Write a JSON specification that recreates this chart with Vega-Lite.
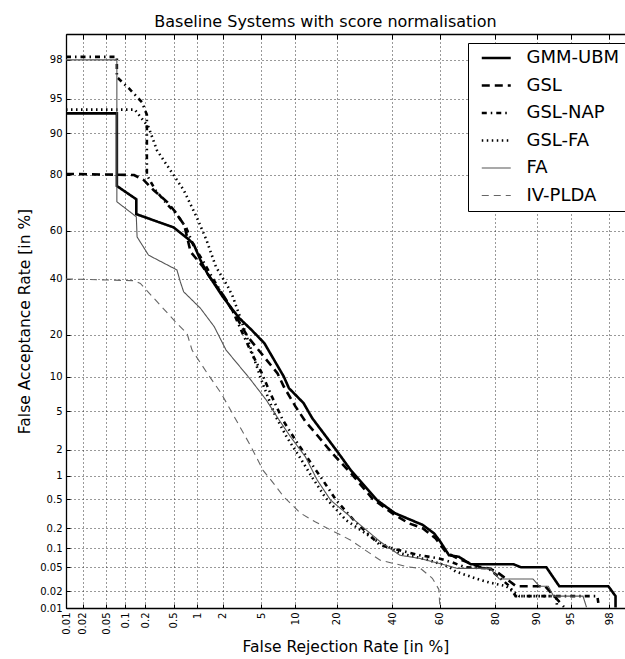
{
  "$schema": "https://vega.github.io/schema/vega-lite/v6.json",
  "width": 559,
  "height": 574,
  "autosize": {"type": "none"},
  "padding": {"left": 66, "top": 34, "right": 0, "bottom": 51},
  "background": "white",
  "title": {"text": "Baseline Systems with score normalisation", "font": "DejaVu Sans", "fontSize": 16, "fontWeight": "normal", "color": "black", "offset": 4, "dx": -20},
  "config": {
    "view": {"stroke": null},
    "font": "DejaVu Sans",
    "axis": {
      "labelFont": "DejaVu Sans", "labelFontSize": 10, "labelColor": "black",
      "titleFont": "DejaVu Sans", "titleFontSize": 15.5, "titleFontWeight": "normal", "titleColor": "black",
      "domainColor": "black", "domainWidth": 1.3, "tickColor": "black", "tickWidth": 1, "tickSize": -4,
      "gridColor": "#333", "gridDash": [1, 3], "gridWidth": 1, "gridOpacity": 1,
      "labelOverlap": false, "labelFlush": false, "labelBound": false
    }
  },
  "data": {"values": [
    {"s":"GMM-UBM","frr":0.01,"far":93.2},{"s":"GMM-UBM","frr":0.074,"far":93.2},{"s":"GMM-UBM","frr":0.074,"far":76.6},{"s":"GMM-UBM","frr":0.148,"far":72.1},{"s":"GMM-UBM","frr":0.148,"far":66.6},{"s":"GMM-UBM","frr":0.5,"far":61.4},{"s":"GMM-UBM","frr":0.785,"far":56.5},{"s":"GMM-UBM","frr":0.907,"far":54.5},{"s":"GMM-UBM","frr":1.1,"far":47.8},{"s":"GMM-UBM","frr":1.33,"far":42.3},{"s":"GMM-UBM","frr":2.0,"far":33.0},{"s":"GMM-UBM","frr":2.58,"far":28.1},{"s":"GMM-UBM","frr":3.03,"far":25.2},{"s":"GMM-UBM","frr":3.99,"far":21.6},{"s":"GMM-UBM","frr":5.36,"far":17.6},{"s":"GMM-UBM","frr":8.0,"far":10.0},{"s":"GMM-UBM","frr":8.84,"far":8.03},{"s":"GMM-UBM","frr":11.6,"far":5.93},{"s":"GMM-UBM","frr":13.5,"far":4.28},{"s":"GMM-UBM","frr":16.0,"far":3.13},{"s":"GMM-UBM","frr":20.0,"far":1.95},{"s":"GMM-UBM","frr":24.4,"far":1.17},{"s":"GMM-UBM","frr":33.9,"far":0.49},{"s":"GMM-UBM","frr":41.2,"far":0.325},{"s":"GMM-UBM","frr":52.8,"far":0.223},{"s":"GMM-UBM","frr":57.6,"far":0.168},{"s":"GMM-UBM","frr":60.2,"far":0.126},{"s":"GMM-UBM","frr":63.7,"far":0.078},{"s":"GMM-UBM","frr":67.6,"far":0.0736},{"s":"GMM-UBM","frr":71.4,"far":0.058},{"s":"GMM-UBM","frr":72.0,"far":0.056},{"s":"GMM-UBM","frr":85.0,"far":0.056},{"s":"GMM-UBM","frr":86.8,"far":0.05},{"s":"GMM-UBM","frr":91.7,"far":0.05},{"s":"GMM-UBM","frr":93.6,"far":0.0242},{"s":"GMM-UBM","frr":97.95,"far":0.0242},{"s":"GMM-UBM","frr":98.3,"far":0.0163},{"s":"GMM-UBM","frr":98.3,"far":0.0102},
    {"s":"GSL","frr":0.01,"far":80.3},{"s":"GSL","frr":0.137,"far":80.0},{"s":"GSL","frr":0.19,"far":78.5},{"s":"GSL","frr":0.264,"far":75.3},{"s":"GSL","frr":0.407,"far":71.2},{"s":"GSL","frr":0.526,"far":67.5},{"s":"GSL","frr":0.69,"far":62.3},{"s":"GSL","frr":0.83,"far":51.3},{"s":"GSL","frr":1.15,"far":45.5},{"s":"GSL","frr":1.46,"far":40.2},{"s":"GSL","frr":2.08,"far":33.0},{"s":"GSL","frr":2.79,"far":25.8},{"s":"GSL","frr":3.7,"far":19.4},{"s":"GSL","frr":5.0,"far":15.0},{"s":"GSL","frr":7.06,"far":10.6},{"s":"GSL","frr":8.0,"far":8.28},{"s":"GSL","frr":10.0,"far":5.53},{"s":"GSL","frr":12.0,"far":3.96},{"s":"GSL","frr":14.3,"far":3.01},{"s":"GSL","frr":18.7,"far":1.83},{"s":"GSL","frr":24.4,"far":1.08},{"s":"GSL","frr":32.2,"far":0.51},{"s":"GSL","frr":40.0,"far":0.327},{"s":"GSL","frr":46.8,"far":0.236},{"s":"GSL","frr":52.8,"far":0.2},{"s":"GSL","frr":58.3,"far":0.141},{"s":"GSL","frr":62.4,"far":0.0877},{"s":"GSL","frr":67.0,"far":0.0695},{"s":"GSL","frr":74.9,"far":0.051},{"s":"GSL","frr":78.2,"far":0.048},{"s":"GSL","frr":80.3,"far":0.0427},{"s":"GSL","frr":84.0,"far":0.0293},{"s":"GSL","frr":85.6,"far":0.0242},{"s":"GSL","frr":91.5,"far":0.0242},{"s":"GSL","frr":94.2,"far":0.0105},
    {"s":"GSL-NAP","frr":0.01,"far":98.15},{"s":"GSL-NAP","frr":0.074,"far":98.15},{"s":"GSL-NAP","frr":0.074,"far":96.95},{"s":"GSL-NAP","frr":0.1155,"far":96.0},{"s":"GSL-NAP","frr":0.18,"far":94.6},{"s":"GSL-NAP","frr":0.212,"far":93.0},{"s":"GSL-NAP","frr":0.212,"far":80.0},{"s":"GSL-NAP","frr":0.28,"far":75.3},{"s":"GSL-NAP","frr":0.398,"far":70.7},{"s":"GSL-NAP","frr":0.561,"far":66.2},{"s":"GSL-NAP","frr":0.734,"far":61.1},{"s":"GSL-NAP","frr":0.899,"far":54.1},{"s":"GSL-NAP","frr":1.2,"far":47.0},{"s":"GSL-NAP","frr":1.58,"far":39.6},{"s":"GSL-NAP","frr":2.18,"far":31.7},{"s":"GSL-NAP","frr":2.6,"far":27.4},{"s":"GSL-NAP","frr":3.16,"far":21.4},{"s":"GSL-NAP","frr":3.99,"far":15.3},{"s":"GSL-NAP","frr":5.0,"far":10.9},{"s":"GSL-NAP","frr":6.17,"far":7.03},{"s":"GSL-NAP","frr":7.84,"far":4.11},{"s":"GSL-NAP","frr":10.0,"far":2.56},{"s":"GSL-NAP","frr":13.1,"far":1.45},{"s":"GSL-NAP","frr":16.1,"far":0.885},{"s":"GSL-NAP","frr":19.8,"far":0.49},{"s":"GSL-NAP","frr":26.0,"far":0.245},{"s":"GSL-NAP","frr":35.2,"far":0.111},{"s":"GSL-NAP","frr":43.2,"far":0.093},{"s":"GSL-NAP","frr":51.5,"far":0.078},{"s":"GSL-NAP","frr":59.7,"far":0.0695},{"s":"GSL-NAP","frr":65.0,"far":0.06},{"s":"GSL-NAP","frr":70.0,"far":0.05},{"s":"GSL-NAP","frr":78.0,"far":0.048},{"s":"GSL-NAP","frr":82.0,"far":0.031},{"s":"GSL-NAP","frr":84.0,"far":0.0242},{"s":"GSL-NAP","frr":85.5,"far":0.0163},{"s":"GSL-NAP","frr":97.3,"far":0.0163},{"s":"GSL-NAP","frr":97.4,"far":0.0105},
    {"s":"GSL-FA","frr":0.01,"far":93.7},{"s":"GSL-FA","frr":0.14,"far":93.7},{"s":"GSL-FA","frr":0.224,"far":91.1},{"s":"GSL-FA","frr":0.295,"far":86.5},{"s":"GSL-FA","frr":0.451,"far":81.4},{"s":"GSL-FA","frr":0.677,"far":75.3},{"s":"GSL-FA","frr":1.0,"far":65.1},{"s":"GSL-FA","frr":1.3,"far":56.2},{"s":"GSL-FA","frr":1.67,"far":45.1},{"s":"GSL-FA","frr":2.28,"far":36.9},{"s":"GSL-FA","frr":2.58,"far":33.0},{"s":"GSL-FA","frr":3.16,"far":24.6},{"s":"GSL-FA","frr":3.7,"far":18.5},{"s":"GSL-FA","frr":4.31,"far":13.4},{"s":"GSL-FA","frr":5.22,"far":8.55},{"s":"GSL-FA","frr":6.68,"far":4.61},{"s":"GSL-FA","frr":8.46,"far":2.76},{"s":"GSL-FA","frr":10.97,"far":1.61},{"s":"GSL-FA","frr":13.6,"far":0.936},{"s":"GSL-FA","frr":16.9,"far":0.52},{"s":"GSL-FA","frr":22.8,"far":0.262},{"s":"GSL-FA","frr":33.3,"far":0.133},{"s":"GSL-FA","frr":43.2,"far":0.084},{"s":"GSL-FA","frr":55.6,"far":0.065},{"s":"GSL-FA","frr":63.7,"far":0.051},{"s":"GSL-FA","frr":66.3,"far":0.0427},{"s":"GSL-FA","frr":74.9,"far":0.0313},{"s":"GSL-FA","frr":78.2,"far":0.028},{"s":"GSL-FA","frr":83.1,"far":0.0242},{"s":"GSL-FA","frr":86.4,"far":0.0163},{"s":"GSL-FA","frr":93.2,"far":0.0163},{"s":"GSL-FA","frr":93.3,"far":0.0103},
    {"s":"FA","frr":0.01,"far":98.0},{"s":"FA","frr":0.074,"far":98.0},{"s":"FA","frr":0.074,"far":71.2},{"s":"FA","frr":0.148,"far":65.6},{"s":"FA","frr":0.152,"far":57.5},{"s":"FA","frr":0.224,"far":49.9},{"s":"FA","frr":0.554,"far":43.7},{"s":"FA","frr":0.614,"far":38.8},{"s":"FA","frr":0.677,"far":34.9},{"s":"FA","frr":1.1,"far":28.7},{"s":"FA","frr":1.6,"far":22.5},{"s":"FA","frr":2.18,"far":15.8},{"s":"FA","frr":3.84,"far":9.7},{"s":"FA","frr":5.56,"far":6.35},{"s":"FA","frr":7.28,"far":4.11},{"s":"FA","frr":9.12,"far":2.77},{"s":"FA","frr":12.0,"far":1.67},{"s":"FA","frr":14.7,"far":0.885},{"s":"FA","frr":18.2,"far":0.49},{"s":"FA","frr":35.2,"far":0.126},{"s":"FA","frr":43.2,"far":0.078},{"s":"FA","frr":51.5,"far":0.0695},{"s":"FA","frr":59.7,"far":0.058},{"s":"FA","frr":67.0,"far":0.048},{"s":"FA","frr":78.5,"far":0.048},{"s":"FA","frr":81.2,"far":0.032},{"s":"FA","frr":89.3,"far":0.032},{"s":"FA","frr":90.5,"far":0.0242},{"s":"FA","frr":92.0,"far":0.0242},{"s":"FA","frr":92.8,"far":0.0163},{"s":"FA","frr":96.2,"far":0.0163},{"s":"FA","frr":96.5,"far":0.0103},
    {"s":"IV-PLDA","frr":0.01,"far":40.0},{"s":"IV-PLDA","frr":0.137,"far":39.3},{"s":"IV-PLDA","frr":0.17,"far":38.2},{"s":"IV-PLDA","frr":0.554,"far":23.5},{"s":"IV-PLDA","frr":0.749,"far":20.4},{"s":"IV-PLDA","frr":0.866,"far":15.8},{"s":"IV-PLDA","frr":1.33,"far":10.6},{"s":"IV-PLDA","frr":1.91,"far":7.3},{"s":"IV-PLDA","frr":3.99,"far":2.16},{"s":"IV-PLDA","frr":5.19,"far":1.17},{"s":"IV-PLDA","frr":6.17,"far":0.885},{"s":"IV-PLDA","frr":8.0,"far":0.542},{"s":"IV-PLDA","frr":10.97,"far":0.327},{"s":"IV-PLDA","frr":14.3,"far":0.245},{"s":"IV-PLDA","frr":18.2,"far":0.189},{"s":"IV-PLDA","frr":24.4,"far":0.133},{"s":"IV-PLDA","frr":29.6,"far":0.093},{"s":"IV-PLDA","frr":35.2,"far":0.065},{"s":"IV-PLDA","frr":46.5,"far":0.051},{"s":"IV-PLDA","frr":51.9,"far":0.048},{"s":"IV-PLDA","frr":56.9,"far":0.033},{"s":"IV-PLDA","frr":59.6,"far":0.0213},{"s":"IV-PLDA","frr":60.0,"far":0.0105}
  ]},
  "transform": [
    {"calculate": "quantileNormal(datum.frr / 100)", "as": "x"},
    {"calculate": "quantileNormal(datum.far / 100)", "as": "y"}
  ],
  "layer": [
    {
      "mark": {"type": "line", "clip": true, "strokeCap": "butt", "strokeJoin": "miter"},
      "encoding": {
        "x": {"field": "x", "type": "quantitative",
          "scale": {"domain": [-3.719016, 2.2207], "nice": false, "zero": false},
          "axis": {"orient": "bottom", "title": "False Rejection Rate [in %]", "titlePadding": 5,
            "values": [-3.719016,-3.540084,-3.290527,-3.090232,-2.878162,-2.575829,-2.326348,-2.053749,-1.644854,-1.281552,-0.841621,-0.253347,0.253347,0.841621,1.281552,1.644854,2.053749],
            "labelExpr": "format(cumulativeNormal(datum.value) * 100, '.2~r')",
            "labelAngle": -90, "labelPadding": 8, "grid": true}},
        "y": {"field": "y", "type": "quantitative",
          "scale": {"domain": [-3.719016, 2.326348], "nice": false, "zero": false},
          "axis": {"title": "False Acceptance Rate [in %]", "titlePadding": 7,
            "values": [-3.719016,-3.540084,-3.290527,-3.090232,-2.878162,-2.575829,-2.326348,-2.053749,-1.644854,-1.281552,-0.841621,-0.253347,0.253347,0.841621,1.281552,1.644854,2.053749],
            "labelExpr": "format(cumulativeNormal(datum.value) * 100, '.2~r')",
            "labelPadding": 8, "grid": true}},
        "order": {"value": null},
        "color": {"field": "s", "type": "nominal",
          "scale": {"domain": ["GMM-UBM","GSL","GSL-NAP","GSL-FA","FA","IV-PLDA"], "range": ["#000000","#000000","#000000","#000000","#555555","#666666"]},
          "legend": {"title": null, "orient": "none", "legendX": 402, "legendY": 9, "symbolType": "M-0.17,0H3.83", "symbolSize": 210, "labelFont": "DejaVu Sans", "labelFontSize": 18, "labelColor": "black", "labelOffset": 34.5, "padding": 6, "rowPadding": 9.5, "strokeColor": "black", "fillColor": "white", "labelLimit": 300}},
        "strokeDash": {"field": "s", "type": "nominal",
          "scale": {"domain": ["GMM-UBM","GSL","GSL-NAP","GSL-FA","FA","IV-PLDA"], "range": [[1,0],[8,5],[5,4,1.5,4],[1.5,3.5],[1,0],[7,5]]},
          "legend": {"title": null, "orient": "none", "legendX": 402, "legendY": 9, "symbolType": "M-0.17,0H3.83", "symbolSize": 210, "labelFont": "DejaVu Sans", "labelFontSize": 18, "labelColor": "black", "labelOffset": 34.5, "padding": 6, "rowPadding": 9.5, "strokeColor": "black", "fillColor": "white", "labelLimit": 300}},
        "strokeWidth": {"field": "s", "type": "nominal",
          "scale": {"type": "ordinal", "domain": ["GMM-UBM","GSL","GSL-NAP","GSL-FA","FA","IV-PLDA"], "range": [2.6,2.6,2.6,2.6,1.1,1.1]},
          "legend": {"title": null, "orient": "none", "legendX": 402, "legendY": 9, "symbolType": "M-0.17,0H3.83", "symbolSize": 210, "labelFont": "DejaVu Sans", "labelFontSize": 18, "labelColor": "black", "labelOffset": 34.5, "padding": 6, "rowPadding": 9.5, "strokeColor": "black", "fillColor": "white", "labelLimit": 300}}
      }
    },
    {
      "mark": {"type": "point", "opacity": 0},
      "encoding": {
        "x": {"field": "x", "type": "quantitative",
          "scale": {"domain": [-3.719016, 2.2207], "nice": false, "zero": false},
          "axis": {"orient": "top", "title": null, "labels": false, "grid": false, "tickSize": -5,
            "values": [-3.719016,-3.540084,-3.290527,-3.090232,-2.878162,-2.575829,-2.326348,-2.053749,-1.644854,-1.281552,-0.841621,-0.253347,0.253347,0.841621,1.281552,1.644854,2.053749]}}
      }
    }
  ],
  "resolve": {"axis": {"x": "independent"}}
}
